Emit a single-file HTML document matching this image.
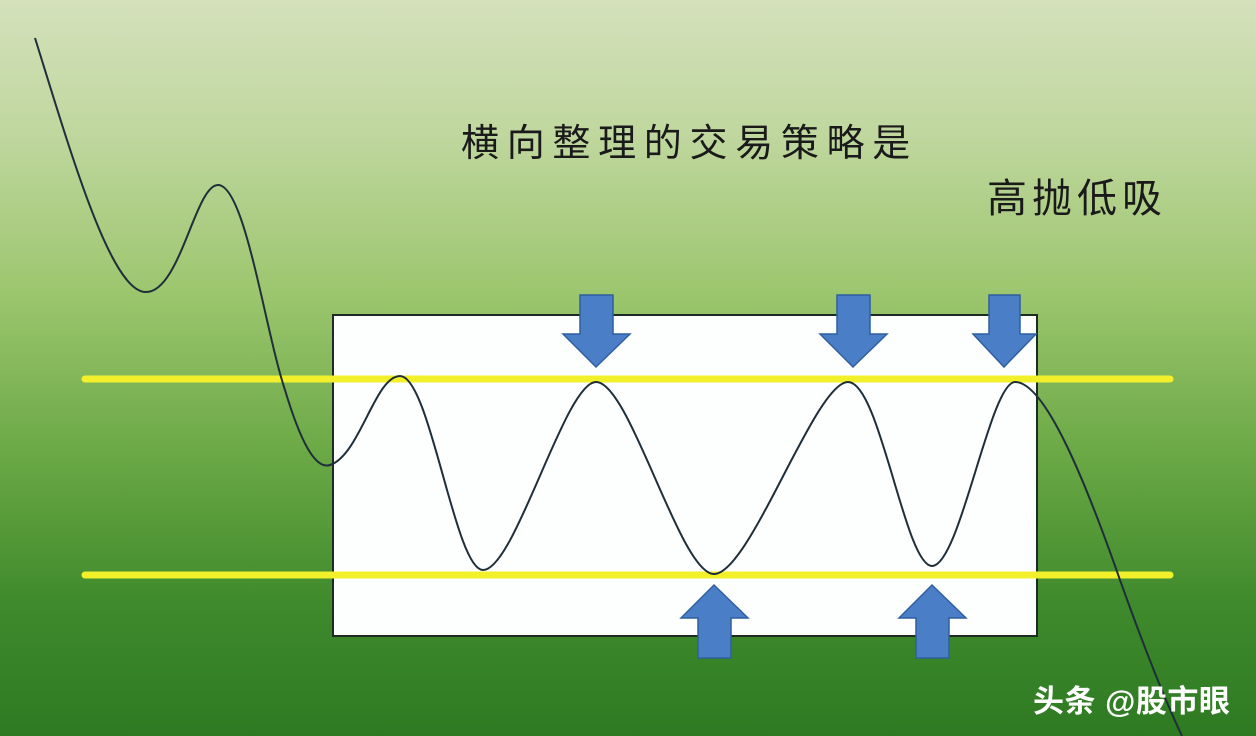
<!DOCTYPE html>
<html><head><meta charset="utf-8"><style>
html,body{margin:0;padding:0}
body{width:1256px;height:736px;overflow:hidden;background:linear-gradient(180deg,#d4e1bb 0%,#c0d79f 18%,#9cc66e 40%,#6aa845 62%,#3f8a2c 82%,#2e7a22 100%);position:relative;font-family:"Liberation Sans","Noto Sans CJK SC",sans-serif}
.t{position:absolute;color:#1a1a1a;white-space:nowrap}
</style></head><body>
<svg width="1256" height="736" style="position:absolute;left:0;top:0">
<rect x="333" y="315" width="704" height="321" fill="#fdfefe" stroke="#1e2a24" stroke-width="2"/>
<line x1="85" y1="379" x2="1170" y2="379" stroke="#f2f02a" stroke-width="7" stroke-linecap="round"/>
<line x1="85" y1="575" x2="1170" y2="575" stroke="#f2f02a" stroke-width="7" stroke-linecap="round"/>
<path d="M35,38 C70,150 110,290 145,292 C180,294 195,185 218,185 C245,185 265,330 285,390 C300,440 315,470 330,465 C360,455 375,376 400,376 C430,376 455,570 483,570 C515,570 565,382 596,382 C630,382 680,574 714,574 C750,574 815,382 848,382 C880,382 905,566 932,566 C960,566 990,382 1015,382 C1045,382 1085,480 1120,580 C1145,650 1165,700 1182,736" fill="none" stroke="#1f2f3a" stroke-width="2"/>
<g fill="#4a7fc8" stroke="#2f5f9f" stroke-width="1.5">
<polygon points="580,295 613,295 613,334 630,334 596,367 563,334 580,334"/>
<polygon points="837,295 870,295 870,334 887,334 853,367 820,334 837,334"/>
<polygon points="989,295 1020,295 1020,334 1036,334 1004,367 973,334 989,334"/>
<polygon points="698,658 731,658 731,618 748,618 714,585 681,618 698,618"/>
<polygon points="916,658 949,658 949,618 966,618 932,585 899,618 916,618"/>
</g>
</svg>
<div class="t" style="left:461px;top:112px;font-size:38px;letter-spacing:7.7px">横向整理的交易策略是</div>
<div class="t" style="left:987px;top:166px;font-size:40px;letter-spacing:5px">高抛低吸</div>
<div class="t" style="left:1033px;top:676px;font-size:31px;color:#fff;font-weight:bold;letter-spacing:0.5px">头条 @股市眼</div>
</body></html>
